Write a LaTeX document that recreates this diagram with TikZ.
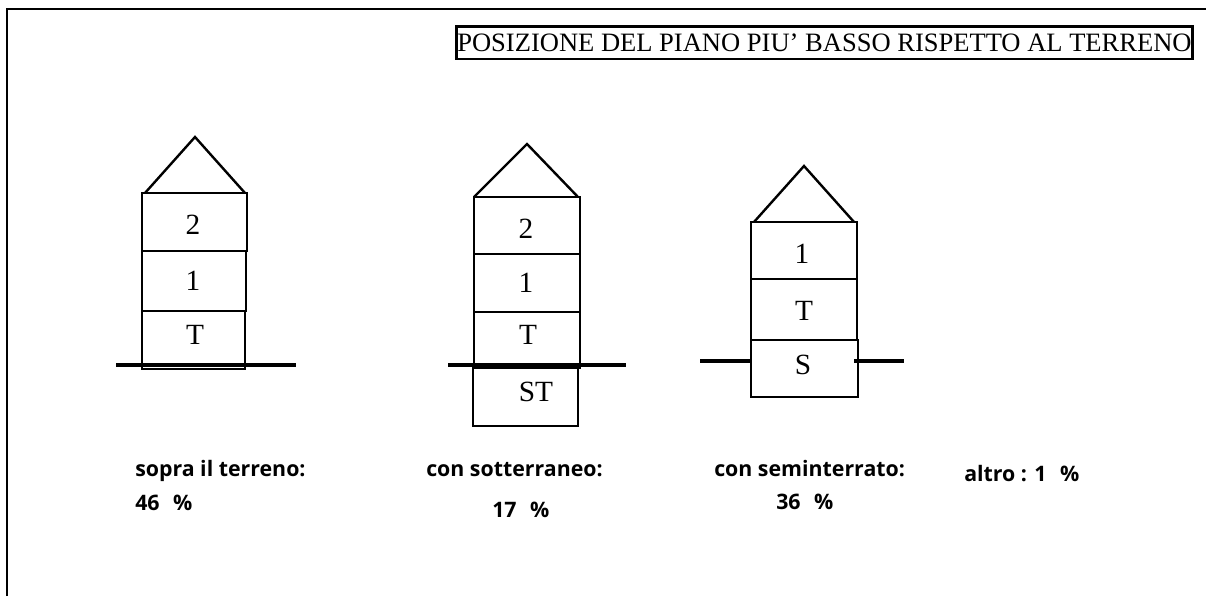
\documentclass[tikz,border=0pt]{standalone}
\usepackage{fontspec}
\setmainfont{Liberation Serif}
\newfontfamily\labelfont{Open Sans}
\usetikzlibrary{positioning}

\newcommand{\pct}{\hspace{6pt}\%}

\tikzset{
    wall/.style={draw=black, line width=1.8pt, line join=miter},
    heavywall/.style={draw=black, line width=2.1pt},
    ground/.style={draw=black, line width=2.4pt},
    floortext/.style={inner sep=0pt, font=\fontsize{22}{24}\selectfont},
    sharetext/.style={inner sep=0pt, anchor=base west, font=\labelfont\bfseries\fontsize{16}{18}\selectfont}
}

\begin{document}
\begin{tikzpicture}[x=0.75pt,y=-0.75pt]
    \useasboundingbox (0,0) rectangle (1206,596);
    \fill[white] (0,0) rectangle (1206,596);

    % frame, open on two sides
    \draw[wall] (7,596) -- (7,9) -- (1206,9);

    % heading
    \node[draw=black, line width=2pt, inner sep=0pt, minimum width=552pt, minimum height=24.5pt,
        font=\fontsize{19.9}{22}\selectfont] (heading) at (824.5,42.5) {POSIZIONE DEL PIANO PIU' BASSO RISPETTO AL TERRENO};

    % house above ground
    \draw[wall] (145,193) -- (195,137) -- (245,193);
    \draw[wall] (142,193) rectangle (247,251);
    \draw[heavywall] (142,251) rectangle (246,311);
    \draw[wall] (142,311) rectangle (245,369);
    \draw[ground] (116,365) -- (296,365);
    \node[floortext] (a2) at (193,225) {2};
    \node[floortext] (a1) at (193,281) {1};
    \node[floortext] (aT) at (195,335) {T};

    % house with basement
    \draw[wall] (474,197) -- (527,144) -- (578,197);
    \draw[wall] (474,197) rectangle (580,254);
    \draw[heavywall] (474,254) rectangle (580,312);
    \draw[wall] (474,312) rectangle (580,368);
    \draw[wall] (473,368) rectangle (578,426);
    \draw[ground] (448,365) -- (626,365);
    \node[floortext] (b2) at (526,229) {2};
    \node[floortext] (b1) at (526,283) {1};
    \node[floortext] (bT) at (528,335) {T};
    \node[floortext] (bST) at (536,392) {ST};

    % house with half basement
    \draw[wall] (754,222) -- (804,166) -- (854,222);
    \draw[wall] (751,222) rectangle (857,279);
    \draw[heavywall] (751,279) rectangle (857,340);
    \draw[wall] (751,340) rectangle (858,397);
    \draw[ground] (700,361) -- (751,361);
    \draw[ground] (854,361) -- (904,361);
    \node[floortext] (c1) at (802,254) {1};
    \node[floortext] (cT) at (804,311) {T};
    \node[floortext] (cS) at (803,365) {S};

    % shares
    \node[sharetext] (aname) at (135,476) {sopra il terreno:};
    \node[sharetext] (ashare) at (135,510) {46 \pct};
    \node[sharetext] (bname) at (426,476) {con sotterraneo:};
    \node[sharetext] (bshare) at (492,517) {17 \pct};
    \node[sharetext] (cname) at (714,476) {con seminterrato:};
    \node[sharetext] (cshare) at (776,509) {36 \pct};
    \node[sharetext] (other) at (964,481) {altro : 1 \pct};
\end{tikzpicture}
\end{document}
